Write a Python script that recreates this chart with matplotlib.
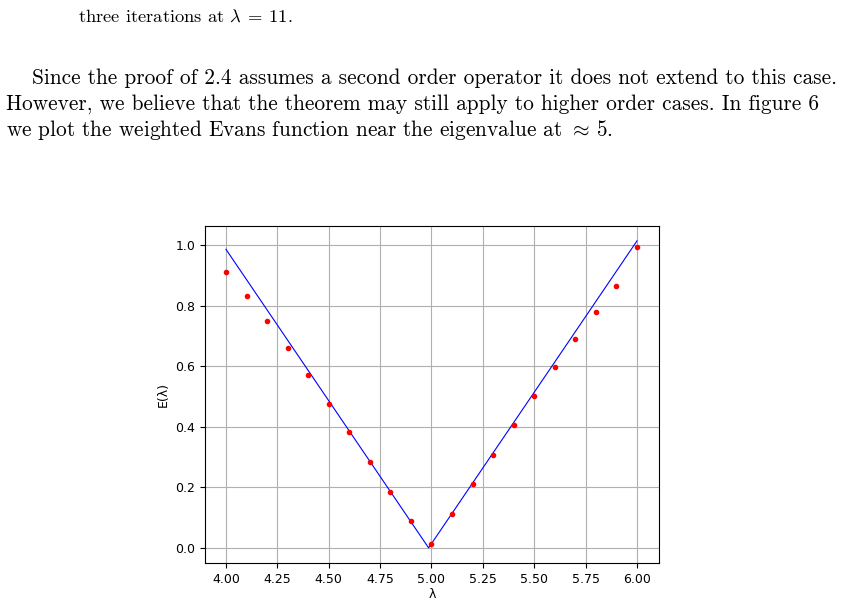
import numpy as np
import matplotlib
matplotlib.use("Agg")
import matplotlib.pyplot as plt

plt.rcParams['mathtext.fontset'] = 'cm'

# sampled weighted Evans function
lam = [4.0, 4.1, 4.2, 4.3, 4.4, 4.5, 4.6, 4.7, 4.8, 4.9, 5.0,
       5.1, 5.2, 5.3, 5.4, 5.5, 5.6, 5.7, 5.8, 5.9, 6.0]
E = [0.910, 0.832, 0.748, 0.661, 0.570, 0.476, 0.384, 0.284, 0.186, 0.088, 0.013,
     0.112, 0.211, 0.308, 0.405, 0.500, 0.597, 0.689, 0.780, 0.866, 0.993]

# fitted V shape
fit_x = [4.0, 4.986, 6.0]
fit_y = [0.986, 0.0, 1.014]

xticks = [4.00, 4.25, 4.50, 4.75, 5.00, 5.25, 5.50, 5.75, 6.00]
yticks = [0.0, 0.2, 0.4, 0.6, 0.8, 1.0]

fig = plt.figure(figsize=(8.47, 6.06), dpi=100)

# surrounding page text
fig.text(78/847, 1 - 17/606, r"three iterations at $\lambda\:=\:11$.",
         fontfamily='cmr10', fontsize=13.3, va='center', ha='left')
para = ["Since the proof of 2.4 assumes a second order operator it does not extend to this case.",
        "However, we believe that the theorem may still apply to higher order cases. In figure 6",
        r"we plot the weighted Evans function near the eigenvalue at $\approx\,5$."]
starts = [32, 6, 6]
for i, line in enumerate(para):
    fig.text(starts[i]/847, 1 - (78 + 26*i)/606, line,
             fontfamily='cmr10', fontsize=15.35, va='center', ha='left')

ax = fig.add_axes([205/847, 1 - 563/606, 454/847, 337/606])
ax.plot(fit_x, fit_y, color='blue', linewidth=0.8)
ax.plot(lam, E, 'o', color='red', markersize=3)
ax.set_xticks(xticks)
ax.set_yticks(yticks)
ax.set_xticklabels(['%.2f' % t for t in xticks])
ax.set_yticklabels(['%.1f' % t for t in yticks])
ax.tick_params(labelsize=9)
ax.set_xlabel('λ', fontsize=9, labelpad=2)
ax.set_ylabel('E(λ)', fontsize=9)
ax.grid(True)
ax.set_xlim(3.898, 6.107)
ax.set_ylim(-0.05, 1.063)

plt.savefig('out.png', dpi=100)
